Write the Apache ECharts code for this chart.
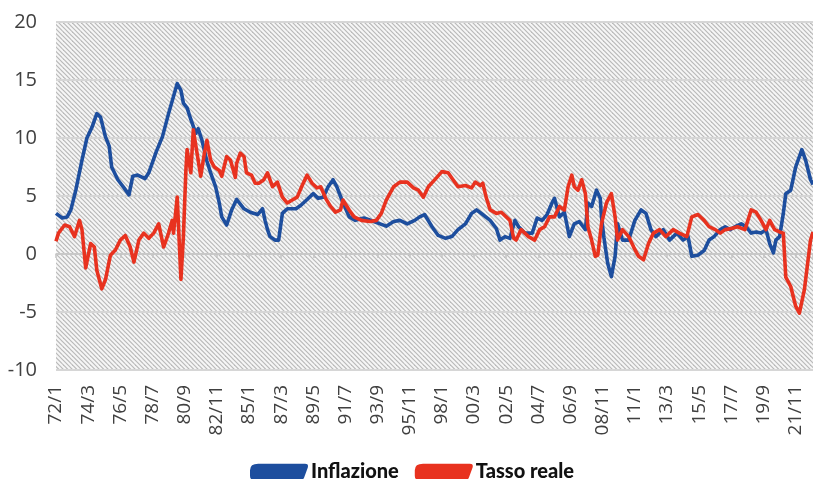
<!DOCTYPE html>
<html>
<head>
<meta charset="utf-8">
<script src="https://cdn.jsdelivr.net/npm/echarts@6/dist/echarts.min.js"></script>
<style>
  html, body { margin: 0; padding: 0; background: #ffffff; }
  #chart { width: 813px; height: 479px; }
</style>
</head>
<body>
<div id="chart"></div>
<script>
// Months are counted from January 1972 (0 = 72/1).
const tickLabels = ['72/1','74/3','76/5','78/7','80/9','82/11','85/1','87/3','89/5','91/7','93/9','95/11',
  '98/1','00/3','02/5','04/7','06/9','08/11','11/1','13/3','15/5','17/7','19/9','21/11'];

// Inflazione (%, anno su anno)
const inflMesi = [0,5,9,12,16,21,25,29,33,36,40,43,45,50,55,59,62,66,72,75,81,86,91,98,101,103,106,109,113,115,
  118,122,125,129,132,134,138,142,146,152,157,163,167,169,171,173,177,180,183,187,194,198,203,208,212,216,220,
  224,227,231,237,242,249,257,262,267,273,278,284,290,294,298,304,309,315,320,325,331,336,340,345,351,356,359,
  363,367,371,374,379,385,389,393,397,401,403,407,411,415,419,423,428,430,433,437,440,441,443,446,449,452,454,
  458,463,468,473,477,481,485,491,496,502,507,511,514,519,524,528,532,537,541,545,549,554,558,562,566,570,574,
  577,580,582,585,588,590,594,598,603,606,610,612];
const inflValori = [3.5,3.1,3.2,3.8,5.5,8.1,10.0,10.9,12.1,11.8,10.1,9.3,7.5,6.4,5.7,5.1,6.7,6.8,6.5,7.0,8.8,10.1,
  12.1,14.7,14.1,13.0,12.6,11.6,10.4,10.8,9.8,8.0,7.0,5.8,4.4,3.2,2.5,3.8,4.7,3.9,3.6,3.4,3.9,2.9,2.1,1.5,1.2,1.2,
  3.5,3.9,3.9,4.2,4.7,5.2,4.8,4.9,5.8,6.4,5.8,4.7,3.2,2.9,3.1,2.8,2.6,2.4,2.8,2.9,2.6,2.9,3.2,3.4,2.35,1.6,1.35,
  1.5,2.1,2.6,3.5,3.8,3.4,2.9,2.2,1.2,1.5,1.35,2.9,2.35,1.8,1.8,3.1,2.9,3.4,4.4,4.8,3.2,3.6,1.5,2.6,2.8,2.1,4.4,
  4.1,5.5,4.8,3.2,1.4,-0.8,-1.95,-0.2,2.6,1.2,1.2,2.9,3.8,3.5,2.1,1.5,2.1,1.2,1.8,1.2,1.5,-0.2,-0.1,0.3,1.2,1.5,
  2.1,2.35,2.1,2.35,2.6,2.35,1.8,1.9,1.8,2.1,0.9,0.1,1.2,1.5,3.5,5.2,5.5,7.5,9.0,8.1,6.4,6.0];

// Tasso reale (%)
const tassoMesi = [0,2,7,11,15,19,21,24,28,31,33,37,40,44,48,52,56,60,63,67,71,75,79,83,87,91,94,95,98,101,103,
  105,106,109,111,114,117,120,122,125,128,132,134,138,141,145,146,149,152,154,158,161,164,168,171,175,179,183,
  187,191,195,199,203,207,211,214,218,222,226,230,232,237,241,247,254,259,263,267,273,278,284,289,293,297,301,
  307,312,317,321,325,331,336,339,343,345,348,351,356,360,364,367,370,372,376,382,387,391,395,399,403,407,411,
  414,417,419,422,425,428,430,433,436,438,441,445,449,452,454,458,463,467,471,475,479,483,488,493,499,504,510,
  514,519,524,528,533,537,541,546,551,557,562,566,570,574,577,581,585,588,590,594,598,601,605,610,612];
const tassoValori = [1.1,1.8,2.5,2.35,1.5,2.9,2.1,-1.2,0.9,0.6,-1.4,-3.0,-2.2,-0.1,0.35,1.2,1.6,0.6,-0.7,1.2,1.8,
  1.35,1.8,2.6,0.6,1.8,2.9,1.8,4.9,-2.2,1.5,7.2,9.0,7.0,10.7,8.7,6.7,8.7,9.8,8.1,7.5,7.2,6.7,8.4,8.1,6.6,7.8,8.7,
  8.4,7.0,6.8,6.1,6.1,6.4,7.0,5.8,6.2,4.9,4.4,4.65,4.9,5.9,6.8,6.1,5.7,5.8,4.8,4.1,3.6,3.8,4.65,3.8,3.2,2.9,2.8,
  2.9,3.5,4.65,5.8,6.2,6.2,5.7,5.5,4.9,5.8,6.5,7.1,7.0,6.4,5.8,5.9,5.7,6.2,5.9,6.1,4.8,3.8,3.5,3.6,3.2,2.9,1.35,
  1.2,2.1,1.5,1.2,2.1,2.35,3.2,3.2,4.1,3.8,5.8,6.8,5.8,5.5,6.4,5.2,2.35,1.2,-0.2,-0.1,2.6,4.4,5.2,3.2,1.2,2.1,
  1.5,0.6,-0.2,-0.5,0.9,1.8,2.1,1.5,2.1,1.8,1.5,3.2,3.4,2.9,2.35,2.1,1.8,2.1,2.2,2.35,2.1,3.8,3.6,2.9,2.1,2.9,
  2.1,1.9,1.8,-2.0,-2.8,-4.5,-5.1,-3.1,1.2,1.9];

const zip = (xs, ys) => xs.map((x, i) => [x, ys[i]]);

// Diagonal hatch used as the plot background
function hatchTile() {
  const c = document.createElement('canvas');
  c.width = 9; c.height = 9;
  const g = c.getContext('2d');
  g.fillStyle = '#f6f6f6';
  g.fillRect(0, 0, 9, 9);
  g.strokeStyle = '#b9b9b9';
  g.lineWidth = 1.2;
  [-9, -4.5, 0, 4.5, 9].forEach(k => {
    g.beginPath();
    g.moveTo(-2, k - 2);
    g.lineTo(11, k + 11);
    g.stroke();
  });
  return c;
}

const legendIcon = 'path://M9,0 L60,0 Q64,0 63,4 L59,15 Q58,18 54,18 L5,18 Q0,18 0,13 L0,7 Q0,0 9,0 Z';
const font = '"Open Sans", sans-serif';

const chart = echarts.init(document.getElementById('chart'), null, { renderer: 'canvas' });
chart.setOption({
  animation: false,
  backgroundColor: '#ffffff',
  grid: {
    left: 56, right: 0, top: 22, bottom: 109,
    show: true,
    borderWidth: 0,
    backgroundColor: { image: hatchTile(), repeat: 'repeat' }
  },
  legend: {
    left: 245, top: 457,
    itemWidth: 58, itemHeight: 19, itemGap: 16,
    textStyle: { fontFamily: 'Lato, sans-serif', fontWeight: 900, fontSize: 20, color: '#111111', padding: [0, 0, 0, -2] },
    data: [
      { name: 'Inflazione', icon: legendIcon },
      { name: 'Tasso reale', icon: legendIcon }
    ]
  },
  xAxis: [
    {
      type: 'value', min: 0, max: 612, interval: 26,
      axisLine: { show: false, onZero: false },
      axisTick: { show: false },
      splitLine: { show: false },
      axisLabel: {
        rotate: 90, margin: 15, fontFamily: font, fontSize: 19, color: '#404040',
        showMaxLabel: false,
        formatter: v => tickLabels[Math.round(v / 26)] || ''
      }
    },
    {
      type: 'value', min: 0, max: 612, interval: 26, position: 'bottom',
      axisLine: { show: true, onZero: true, lineStyle: { color: '#c4c4c4', width: 1.5 } },
      axisTick: { show: true, length: 4, lineStyle: { color: '#c4c4c4', width: 1.5 } },
      axisLabel: { show: false },
      splitLine: { show: false }
    }
  ],
  yAxis: {
    type: 'value', min: -10, max: 20, interval: 5,
    axisLine: { show: false },
    axisTick: { show: false },
    axisLabel: { margin: 19, fontFamily: font, fontSize: 20, color: '#404040' },
    splitLine: { lineStyle: { color: '#d6d6d6', width: 2 } }
  },
  series: [
    {
      name: 'Inflazione', type: 'line', xAxisIndex: 0,
      data: zip(inflMesi, inflValori),
      showSymbol: false, symbol: 'none',
      itemStyle: { color: '#1d4e9e' },
      lineStyle: { color: '#1d4e9e', width: 3.6, join: 'round' }
    },
    {
      name: 'Tasso reale', type: 'line', xAxisIndex: 0,
      data: zip(tassoMesi, tassoValori),
      showSymbol: false, symbol: 'none',
      itemStyle: { color: '#e8321f' },
      lineStyle: { color: '#e8321f', width: 3.6, join: 'round' }
    }
  ]
});
</script>
</body>
</html>
